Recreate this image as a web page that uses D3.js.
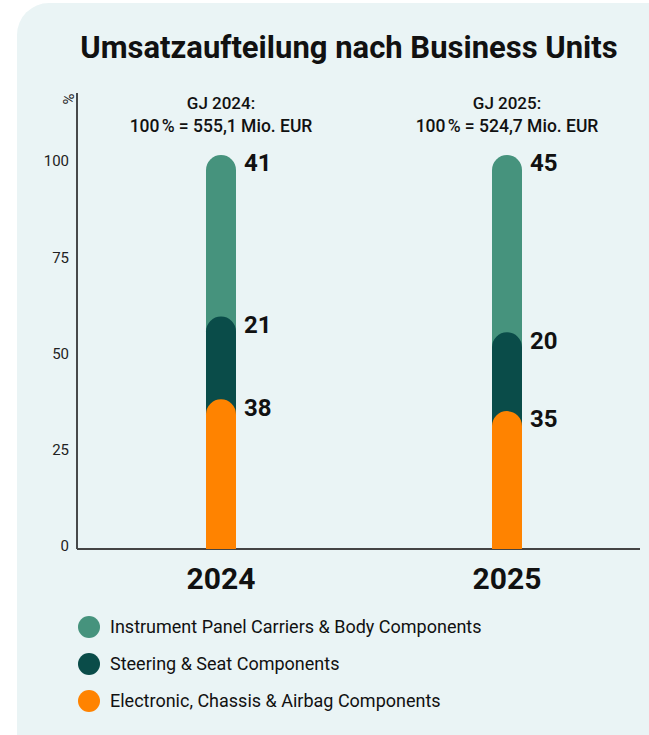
<!DOCTYPE html>
<html>
<head>
<meta charset="utf-8">
<script src="https://cdn.jsdelivr.net/npm/d3@7"></script>
<style>
  body { margin: 0; background: #ffffff; }
  svg { display: block; font-family: Roboto, "DejaVu Sans", sans-serif; }
</style>
</head>
<body>
<script>
var years = ["2024", "2025"];
var yearHeaders = ["GJ 2024:", "GJ 2025:"];
var yearTotals = ["100\u202F% = 555,1 Mio. EUR", "100\u202F% = 524,7 Mio. EUR"];
var units = ["Electronic, Chassis & Airbag Components", "Steering & Seat Components", "Instrument Panel Carriers & Body Components"];
var electronic = [38, 35];
var steering = [21, 20];
var instrument = [41, 45];
var yTicks = [0, 25, 50, 75, 100];
var colors = ["#ff8300", "#0a4c49", "#46937d"];

var width = 649;
var height = 735;

var svg = d3.select("body").append("svg")
  .attr("width", width)
  .attr("height", height);

// card background
svg.append("rect")
  .attr("x", 17)
  .attr("y", 3)
  .attr("width", 680)
  .attr("height", 770)
  .attr("rx", 32)
  .attr("fill", "#eaf4f5");

svg.append("text")
  .attr("x", 349)
  .attr("y", 58)
  .attr("text-anchor", "middle")
  .style("font-size", "31px")
  .style("font-weight", "bold")
  .attr("fill", "#111")
  .text("Umsatzaufteilung nach Business Units");

// build rows for the stack
var rows = years.map((y, i) => ({
  year: y,
  [units[0]]: electronic[i],
  [units[1]]: steering[i],
  [units[2]]: instrument[i]
}));
var series = d3.stack().keys(units)(rows);

var xScale = d3.scaleBand()
  .domain(years)
  .range([78, 650]);

var yScale = d3.scaleLinear()
  .domain([0, 100])
  .range([549, 155]);

// tick labels sit on a slightly tighter grid than the bars
var yAxisScale = d3.scaleLinear()
  .domain([0, 100])
  .range([546, 161]);

var yAxis = d3.axisLeft(yAxisScale)
  .tickValues(yTicks)
  .tickSize(0)
  .tickPadding(8);

var yAxisG = svg.append("g")
  .attr("transform", "translate(77,0)")
  .call(yAxis);
yAxisG.select(".domain").remove();
yAxisG.selectAll("text")
  .style("font-size", "15px")
  .style("font-family", "Roboto, sans-serif")
  .attr("fill", "#222");

// axis lines
svg.append("line")
  .attr("x1", 77).attr("x2", 77)
  .attr("y1", 93).attr("y2", 549)
  .attr("stroke", "#111")
  .attr("stroke-width", 1.5);
svg.append("line")
  .attr("x1", 77).attr("x2", 640)
  .attr("y1", 549).attr("y2", 549)
  .attr("stroke", "#444")
  .attr("stroke-width", 2);

svg.append("text")
  .attr("transform", "translate(67,99) rotate(90)")
  .attr("text-anchor", "middle")
  .attr("dominant-baseline", "middle")
  .style("font-size", "15px")
  .attr("fill", "#222")
  .text("%");

var barWidth = 30;
var r = barWidth / 2;

function pillPath(cx, top, bottom) {
  var x0 = cx - r, x1 = cx + r;
  return "M" + x0 + "," + bottom +
    "L" + x0 + "," + (top + r) +
    "A" + r + "," + r + " 0 0 1 " + x1 + "," + (top + r) +
    "L" + x1 + "," + bottom + "Z";
}

// draw top series first so lower caps overlap the one above
for (var s = series.length - 1; s >= 0; s--) {
  svg.append("g")
    .selectAll("path")
    .data(series[s])
    .enter()
    .append("path")
      .attr("fill", colors[s])
      .attr("d", d => pillPath(xScale(d.data.year) + xScale.bandwidth() / 2, yScale(d[1]), yScale(0)));
}

// value labels
series.forEach((ser, s) => {
  svg.append("g")
    .selectAll("text")
    .data(ser)
    .enter()
    .append("text")
      .attr("x", d => xScale(d.data.year) + xScale.bandwidth() / 2 + 23)
      .attr("y", d => yScale(d[1]) + 10)
      .attr("dominant-baseline", "middle")
      .style("font-size", "24px")
      .style("font-weight", "bold")
      .attr("fill", "#111")
      .text(d => d[1] - d[0]);
});

// headers above the bars
years.forEach((y, i) => {
  var cx = xScale(y) + xScale.bandwidth() / 2;
  svg.append("text")
    .attr("x", cx).attr("y", 109)
    .attr("text-anchor", "middle")
    .style("font-size", "17px")
    .style("font-weight", "500")
    .attr("fill", "#111")
    .text(yearHeaders[i]);
  svg.append("text")
    .attr("x", cx).attr("y", 132)
    .attr("text-anchor", "middle")
    .style("font-size", "17.5px")
    .style("font-weight", "500")
    .attr("fill", "#111")
    .text(yearTotals[i]);
  svg.append("text")
    .attr("x", cx).attr("y", 589)
    .attr("text-anchor", "middle")
    .style("font-size", "30px")
    .style("font-weight", "bold")
    .attr("fill", "#111")
    .text(y);
});

// legend, top item first
var legendOrder = [2, 1, 0];
var legend = svg.append("g");
legendOrder.forEach((k, i) => {
  var cy = 627 + i * 37;
  legend.append("circle")
    .attr("cx", 89).attr("cy", cy).attr("r", 11)
    .attr("fill", colors[k]);
  legend.append("text")
    .attr("x", 110).attr("y", cy + 1)
    .attr("dominant-baseline", "middle")
    .style("font-size", "18px")
    .attr("fill", "#111")
    .text(units[k]);
});
</script>
</body>
</html>
